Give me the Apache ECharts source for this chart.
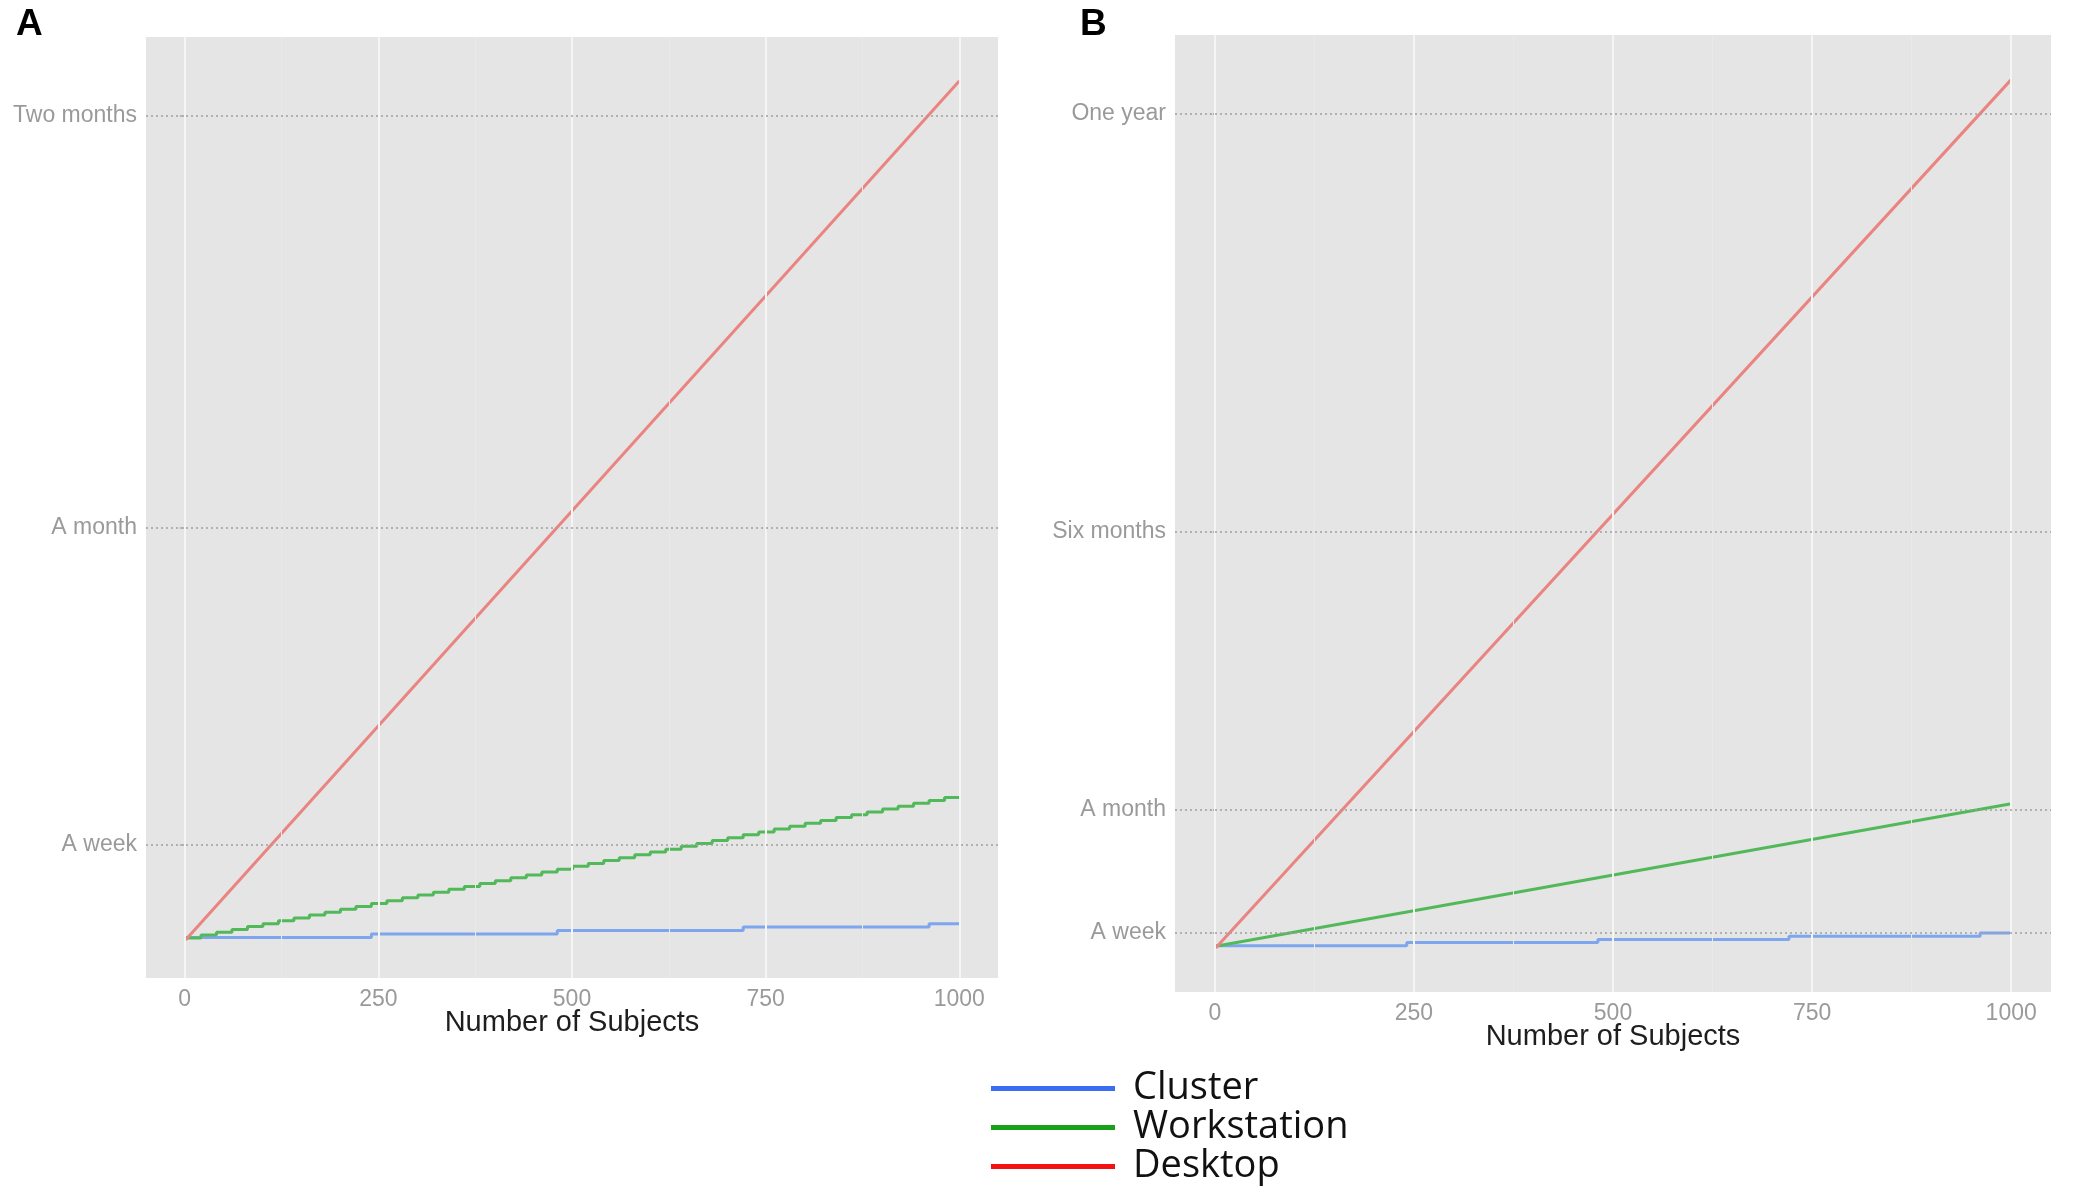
<!DOCTYPE html>
<html>
<head>
<meta charset="utf-8">
<script src="https://cdn.jsdelivr.net/npm/echarts@6/dist/echarts.min.js"></script>
<style>
  html, body { margin: 0; padding: 0; background: #ffffff; }
  #chart { width: 2076px; height: 1203px; }
</style>
</head>
<body>
<div id="chart"></div>
<script>
// ---------- data ----------
const seriesNames = ['Cluster', 'Workstation', 'Desktop'];

const xTickValues = [0, 250, 500, 750, 1000];
const xTickLabels = ['0', '250', '500', '750', '1000'];
const xMinorValues = [125, 375, 625, 875];

const yTickValuesA = [7, 30, 60];
const yTickLabelsA = ['A week', 'A month', 'Two months'];
const yTickValuesB = [7, 61, 182.5, 365];
const yTickLabelsB = ['A week', 'A month', 'Six months', 'One year'];

// Panel A (hours, converted to days for plotting)
const clusterXA = [1, 241, 481, 721, 961, 1000];
const clusterHoursA = [6, 12, 18, 24, 30, 30];

const workstationXA = [1, 21, 41, 61, 81, 101, 121, 141, 161, 181, 201, 221, 241, 261, 281, 301, 321, 341, 361, 381,
  401, 421, 441, 461, 481, 501, 521, 541, 561, 581, 601, 621, 641, 661, 681, 701, 721, 741, 761, 781,
  801, 821, 841, 861, 881, 901, 921, 941, 961, 981, 1000];
const workstationHoursA = [5, 10, 15, 20, 25, 30, 35, 40, 45, 50, 55, 60, 65, 70, 75, 80, 85, 90, 95, 100,
  105, 110, 115, 120, 125, 130, 135, 140, 145, 150, 155, 160, 165, 170, 175, 180, 185, 190, 195, 200,
  205, 210, 215, 220, 225, 230, 235, 240, 245, 250, 250];

const desktopXA = [1, 1000];
const desktopHoursA = [1.5, 1500];

// Panel B (days)
const clusterXB = [1, 241, 481, 721, 961, 1000];
const clusterDaysB = [1.4, 2.8, 4.2, 5.6, 7.0, 7.0];
const workstationXB = [1, 1000];
const workstationDaysB = [1.2, 63.5];
const desktopXB = [1, 1000];
const desktopDaysB = [0.4, 380];

// ---------- helpers ----------
function pairs(xs, ys, scale) {
  return xs.map((x, i) => [x, ys[i] * scale]);
}
const H2D = 1 / 24;

const plotColors = { Cluster: '#7ea6ee', Workstation: '#52b95a', Desktop: '#ea8480' };
const legendColors = { Cluster: '#3b6cf2', Workstation: '#18a018', Desktop: '#f21212' };

const tickFont = { color: '#9a9a9a', fontSize: 23, fontFamily: 'Liberation Sans' };

function gridLineSeries(idx, yVals) {
  const vMajor = xTickValues.map(v => ({ xAxis: v, lineStyle: { color: '#f5f5f5', width: 2, type: 'solid' } }));
  const vMinor = xMinorValues.map(v => ({ xAxis: v, lineStyle: { color: '#e9e9e9', width: 1, type: 'solid' } }));
  const hDot = yVals.map(v => ({ yAxis: v, lineStyle: { color: '#a0a0a0', width: 1.6, type: [2, 3] } }));
  return {
    type: 'line', name: 'grid' + idx, xAxisIndex: idx, yAxisIndex: idx, z: 1,
    data: [], silent: true, showSymbol: false,
    markLine: {
      silent: true, symbol: 'none', animation: false,
      label: { show: false }, emphasis: { disabled: true },
      data: vMinor.concat(vMajor).concat(hDot)
    }
  };
}

function lineSeries(name, idx, data, step) {
  return {
    type: 'line', name: name, xAxisIndex: idx, yAxisIndex: idx, z: 3,
    data: data, step: step || false, showSymbol: false, symbol: 'none',
    lineStyle: { color: plotColors[name], width: 3 },
    itemStyle: { color: plotColors[name] },
    emphasis: { disabled: true }, animation: false
  };
}

function makeXAxis(idx) {
  return {
    type: 'value', gridIndex: idx, min: -50, max: 1050,
    name: 'Number of Subjects', nameLocation: 'middle', nameGap: 30, nameMoveOverlap: false,
    nameTextStyle: { color: '#1e1e1e', fontSize: 29, fontFamily: 'Liberation Sans' },
    axisLine: { show: false },
    axisTick: { show: false },
    splitLine: { show: false },
    axisLabel: Object.assign({
      customValues: xTickValues, margin: 10,
      formatter: function (v) {
        const i = xTickValues.indexOf(v);
        return i >= 0 ? xTickLabels[i] : '';
      }
    }, tickFont)
  };
}

function makeYAxis(idx, min, max, vals, labels) {
  return {
    type: 'value', gridIndex: idx, min: min, max: max,
    axisLine: { show: false },
    axisTick: { show: true, customValues: vals, length: 5, lineStyle: { color: '#a0a0a0', type: [2, 2], width: 1.5 } },
    splitLine: { show: false },
    axisLabel: Object.assign({
      customValues: vals, margin: 9,
      formatter: function (v) {
        const i = vals.indexOf(v);
        return i >= 0 ? labels[i] : '';
      }
    }, tickFont)
  };
}

const chart = echarts.init(document.getElementById('chart'), null, { renderer: 'canvas' });

const option = {
  backgroundColor: '#ffffff',
  animation: false,
  grid: [
    { left: 146, top: 37, width: 852, height: 941, show: true, backgroundColor: '#e5e5e5', borderWidth: 0 },
    { left: 1175, top: 35, width: 876, height: 957, show: true, backgroundColor: '#e5e5e5', borderWidth: 0 }
  ],
  xAxis: [makeXAxis(0), makeXAxis(1)],
  yAxis: [
    makeYAxis(0, -2.7, 65.7, yTickValuesA, yTickLabelsA),
    makeYAxis(1, -18.8, 399.5, yTickValuesB, yTickLabelsB)
  ],
  legend: {
    orient: 'vertical', left: 991, top: 1069, padding: 0,
    icon: 'rect', itemWidth: 124, itemHeight: 5, itemGap: 0,
    selectedMode: false,
    textStyle: { color: '#111111', fontSize: 38, fontFamily: 'Open Sans', lineHeight: 39, padding: [0, 0, 0, 13] },
    data: seriesNames.map(n => ({ name: n, itemStyle: { color: legendColors[n] } }))
  },
  graphic: [
    { type: 'text', left: 16, top: 6, style: { text: 'A', fontSize: 37, fontWeight: 'bold', fontFamily: 'Liberation Sans', fill: '#000' } },
    { type: 'text', left: 1080, top: 6, style: { text: 'B', fontSize: 37, fontWeight: 'bold', fontFamily: 'Liberation Sans', fill: '#000' } }
  ],
  series: [
    gridLineSeries(0, yTickValuesA),
    gridLineSeries(1, yTickValuesB),
    lineSeries('Cluster', 0, pairs(clusterXA, clusterHoursA, H2D), 'end'),
    lineSeries('Workstation', 0, pairs(workstationXA, workstationHoursA, H2D), 'end'),
    lineSeries('Desktop', 0, pairs(desktopXA, desktopHoursA, H2D)),
    lineSeries('Cluster', 1, pairs(clusterXB, clusterDaysB, 1), 'end'),
    lineSeries('Workstation', 1, pairs(workstationXB, workstationDaysB, 1)),
    lineSeries('Desktop', 1, pairs(desktopXB, desktopDaysB, 1))
  ]
};

chart.setOption(option);
</script>
</body>
</html>
